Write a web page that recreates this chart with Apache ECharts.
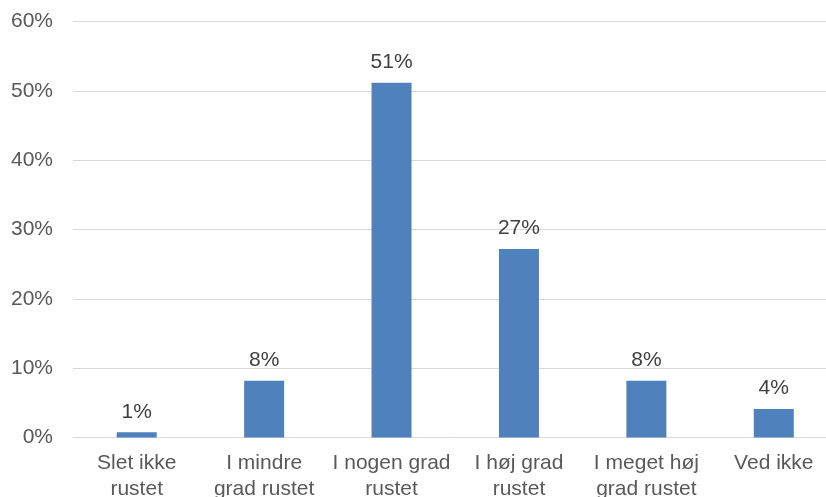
<!DOCTYPE html>
<html>
<head>
<meta charset="utf-8">
<script src="https://cdn.jsdelivr.net/npm/echarts@6/dist/echarts.min.js"></script>
<style>
html,body{margin:0;padding:0;background:#fff;}
#chart{width:826px;height:497px;}
</style>
</head>
<body>
<div id="chart"></div>
<script>
const categories = ["Slet ikke\nrustet", "I mindre\ngrad rustet", "I nogen grad\nrustet", "I høj grad\nrustet", "I meget høj\ngrad rustet", "Ved ikke"];
const values = [0.75, 8.2, 51.2, 27.2, 8.2, 4.1];
const valueLabels = ["1%", "8%", "51%", "27%", "8%", "4%"];
const yTicks = [0, 10, 20, 30, 40, 50, 60];

const chart = echarts.init(document.getElementById('chart'));
chart.setOption({
  animation: false,
  grid: {left: 73, width: 764.5, top: 21.7, height: 415.8, containLabel: false, outerBoundsMode: 'none'},
  xAxis: {
    type: 'category',
    data: categories,
    axisLine: {lineStyle: {color: '#d9d9d9', width: 1}},
    axisTick: {show: false},
    axisLabel: {
      color: '#595959', fontFamily: 'Liberation Sans', fontSize: 21,
      lineHeight: 26, margin: 13, interval: 0
    }
  },
  yAxis: {
    type: 'value',
    min: 0, max: 60, interval: 10,
    axisLine: {show: false},
    axisTick: {show: false},
    splitLine: {lineStyle: {color: '#d9d9d9', width: 1}},
    axisLabel: {
      color: '#595959', fontFamily: 'Liberation Sans', fontSize: 21, margin: 20,
      formatter: v => yTicks.includes(v) ? v + '%' : ''
    }
  },
  series: [{
    type: 'bar',
    data: values,
    barWidth: 40,
    itemStyle: {color: '#4f81bd'},
    label: {
      show: true, position: 'top', distance: 10,
      color: '#404040', fontFamily: 'Liberation Sans', fontSize: 21,
      formatter: p => valueLabels[p.dataIndex]
    }
  }]
});
</script>
</body>
</html>
